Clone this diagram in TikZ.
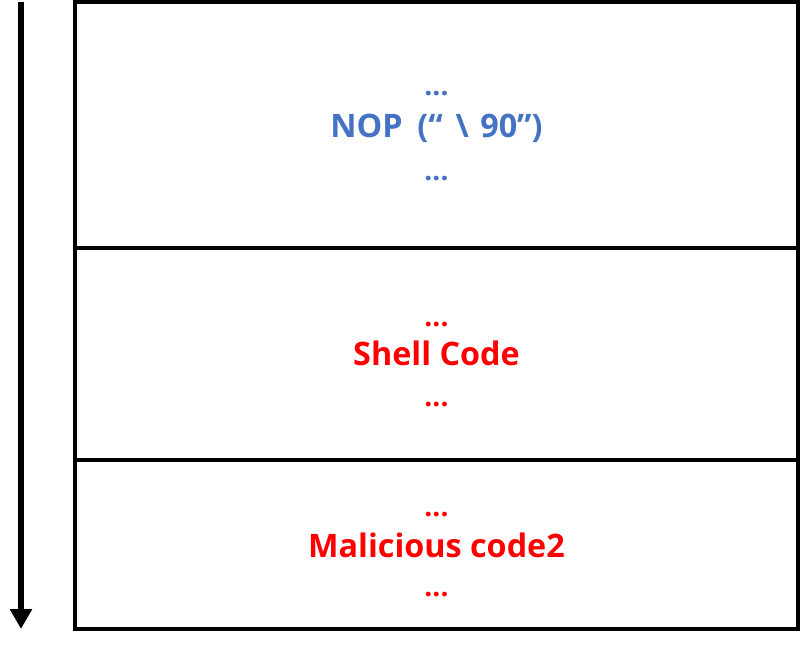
\documentclass[tikz,border=0pt]{standalone}
\usepackage{fontspec}
\setmainfont{Open Sans}
\usetikzlibrary{arrows.meta}
\definecolor{nopblue}{HTML}{4472C4}
\definecolor{codered}{HTML}{FF0000}

\begin{document}
\begin{tikzpicture}[x=0.025cm, y=-0.025cm,
    segbox/.style={draw=black, line width=2.2pt},
    seglabel/.style={
        text=#1, anchor=base, inner sep=0pt,
        font=\fontsize{23}{28}\selectfont\bfseries,
    },
    segdots/.style={
        text=#1, anchor=base, inner sep=0pt,
        font=\fontsize{20}{24}\selectfont\bfseries,
    },
    flow/.style={
        line width=4.3pt, -{Triangle[length=0.5cm, width=0.53cm]},
    },
]
\useasboundingbox (0,0) rectangle (800,651);

% ── Memory segments ───────────────────────────────────────────────────
\draw[segbox] (75,2)   rectangle (798,248);
\draw[segbox] (75,248) rectangle (798,460);
\draw[segbox] (75,460) rectangle (798,629);

% ── NOP sled ──────────────────────────────────────────────────────────
\node[segdots=nopblue]  (nopA) at (436.5,95)  {...};
\node[seglabel=nopblue] (nop)  at (436.5,137) {NOP\hspace{0.45em}(“\hspace{0.4em}\textbackslash\hspace{0.35em}90”)};
\node[segdots=nopblue]  (nopB) at (436.5,180) {...};

% ── Shell code ────────────────────────────────────────────────────────
\node[segdots=codered]  (shA)   at (436.5,326) {...};
\node[seglabel=codered] (shell) at (436.5,365) {Shell Code};
\node[segdots=codered]  (shB)   at (436.5,406) {...};

% ── Malicious code ────────────────────────────────────────────────────
\node[segdots=codered]  (mcA) at (436.5,516) {...};
\node[seglabel=codered] (mal) at (436.5,557) {Malicious code2};
\node[segdots=codered]  (mcB) at (436.5,596) {...};

% ── Execution direction ───────────────────────────────────────────────
\coordinate (runTop) at (21,2);
\coordinate (runEnd) at (21,629);
\draw[flow] (runTop) -- (runEnd);

\end{tikzpicture}
\end{document}
